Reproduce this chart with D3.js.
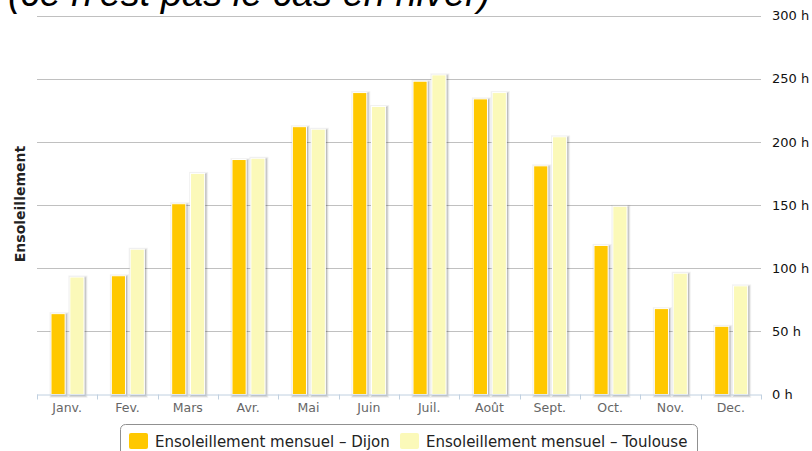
<!DOCTYPE html>
<meta charset="utf-8">
<html>

<head>
    <script src="https://d3js.org/d3.v7.min.js"></script>
    <style>
        body {
            margin: 0;
            background: #fff;
        }

        svg {
            display: block;
            font-family: 'DejaVu Sans', sans-serif;
        }
    </style>
</head>

<body>
    <svg width="812" height="451"></svg>

    <script>
        // data
        const months = ["Janv.", "Fev.", "Mars", "Avr.", "Mai", "Juin", "Juil.", "Août", "Sept.", "Oct.", "Nov.", "Dec."];
        const dijon = [64, 94, 151, 186, 212, 239, 248, 234, 181, 118, 68, 54];
        const toulouse = [93, 115, 175, 187, 210, 228, 253, 239, 204, 149, 96, 86];
        const seriesNames = ["Ensoleillement mensuel – Dijon", "Ensoleillement mensuel – Toulouse"];
        const seriesColors = ["#ffc800", "#fbf9b9"];
        const yTicks = [0, 50, 100, 150, 200, 250, 300];

        const svg = d3.select("svg");
        const plotLeft = 37, plotRight = 761, plotTop = 15.5, plotBottom = 394.5;

        const x = d3.scaleBand().domain(months).range([plotLeft, plotRight]);
        const xInner = d3.scaleBand().domain([0, 1]).range([14, 47]).paddingInner(0.25);
        const y = d3.scaleLinear().domain([0, 300]).range([plotBottom, plotTop]);

        // title (cut at the top of the picture, as in the source)
        svg.append("text")
            .attr("x", 8)
            .attr("y", 6)
            .attr("font-family", "'Liberation Sans', Arial, sans-serif")
            .attr("font-style", "italic")
            .attr("font-size", 38)
            .attr("fill", "#000")
            .text("(ce n'est pas le cas en hiver)");

        // gridlines
        svg.append("g")
            .selectAll("line")
            .data(yTicks.filter(t => t > 0))
            .join("line")
            .attr("x1", plotLeft).attr("x2", plotRight)
            .attr("y1", d => Math.round(y(d)) + 0.5).attr("y2", d => Math.round(y(d)) + 0.5)
            .attr("stroke", "#c0c0c0");

        // right axis labels
        const yAxis = d3.axisRight(y).tickValues(yTicks).tickSize(0).tickPadding(11)
            .tickFormat(d => d + " h");
        svg.append("g")
            .attr("transform", `translate(${plotRight},0)`)
            .call(yAxis)
            .call(g => g.select(".domain").remove())
            .call(g => g.selectAll("text")
                .attr("font-family", "'DejaVu Sans', sans-serif")
                .attr("font-size", 13)
                .attr("fill", "#111"));

        // bars
        const data = months.map((m, i) => ({ m, vals: [dijon[i], toulouse[i]] }));
        const groups = svg.append("g")
            .selectAll("g")
            .data(data)
            .join("g")
            .attr("transform", d => `translate(${x(d.m)},0)`);

        const bars = groups.selectAll("g")
            .data(d => d.vals.map((v, k) => ({ v, k })))
            .join("g");

        // shadow
        [[5, 0.05], [3, 0.1], [1, 0.15]].forEach(([w, o]) => {
            bars.append("rect")
                .attr("x", d => xInner(d.k) + 1)
                .attr("y", d => y(d.v) + 1)
                .attr("width", xInner.bandwidth())
                .attr("height", d => plotBottom - y(d.v))
                .attr("fill", "none")
                .attr("stroke", "#000")
                .attr("stroke-opacity", o)
                .attr("stroke-width", w);
        });

        bars.append("rect")
            .attr("x", d => xInner(d.k))
            .attr("y", d => y(d.v))
            .attr("width", xInner.bandwidth())
            .attr("height", d => plotBottom - y(d.v))
            .attr("fill", d => seriesColors[d.k])
            .attr("stroke", "#fff")
            .attr("stroke-width", 1);

        // x axis
        svg.append("line")
            .attr("x1", plotLeft).attr("x2", plotRight)
            .attr("y1", plotBottom + 0.5).attr("y2", plotBottom + 0.5)
            .attr("stroke", "#c0d0e0");

        svg.append("g")
            .selectAll("line")
            .data(d3.range(months.length + 1))
            .join("line")
            .attr("x1", i => Math.round(plotLeft + i * x.step()) + 0.5)
            .attr("x2", i => Math.round(plotLeft + i * x.step()) + 0.5)
            .attr("y1", plotBottom).attr("y2", plotBottom + 5)
            .attr("stroke", "#c0d0e0");

        svg.append("g")
            .selectAll("text")
            .data(months)
            .join("text")
            .attr("x", d => x(d) + x.bandwidth() / 2)
            .attr("y", 412)
            .attr("text-anchor", "middle")
            .attr("font-size", 12.5)
            .attr("fill", "#666")
            .text(d => d);

        // y title
        svg.append("text")
            .attr("transform", "translate(25,204) rotate(-90)")
            .attr("text-anchor", "middle")
            .attr("font-size", 14)
            .attr("font-weight", "bold")
            .attr("fill", "#222")
            .text("Ensoleillement");

        // legend
        svg.append("rect")
            .attr("x", 120.5).attr("y", 424.5)
            .attr("width", 577).attr("height", 40)
            .attr("rx", 5)
            .attr("fill", "#fff")
            .attr("stroke", "#909090");

        const legendX = [129, 400];
        const lg = svg.append("g")
            .selectAll("g")
            .data(seriesNames)
            .join("g")
            .attr("transform", (d, i) => `translate(${legendX[i]},0)`);

        lg.append("rect")
            .attr("x", 0).attr("y", 433)
            .attr("width", 19).attr("height", 16)
            .attr("rx", 2)
            .attr("fill", (d, i) => seriesColors[i]);

        lg.append("text")
            .attr("x", 26).attr("y", 447)
            .attr("font-size", 15)
            .attr("fill", "#222")
            .text(d => d);
    </script>
</body>

</html>
